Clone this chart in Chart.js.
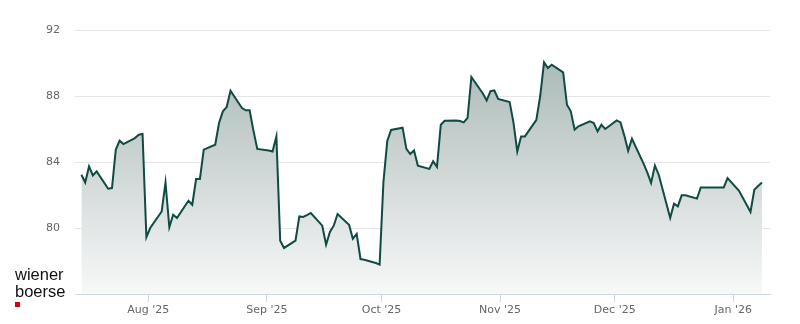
<!DOCTYPE html>
<html><head><meta charset="utf-8">
<script src="https://cdn.jsdelivr.net/npm/chart.js@4.4.1/dist/chart.umd.min.js"></script>
<style>
html,body{margin:0;padding:0;background:#fff;}
#wrap{position:relative;width:800px;height:324px;overflow:hidden;}
canvas{display:block;}
#logo{position:absolute;left:15px;top:266px;font-family:"Liberation Sans",Arial,sans-serif;font-size:16.5px;line-height:17px;color:#111;}
#logo .sq{width:5px;height:5px;background:#d0021b;margin-top:2px;}
</style></head><body>
<div id="wrap"><canvas id="c" width="800" height="324"></canvas>
<div id="logo"><div>wiener</div><div>boerse</div><div class="sq"></div></div></div>
<script>
const dates = [
'2025-07-14','2025-07-15','2025-07-16','2025-07-17','2025-07-18',
'2025-07-21','2025-07-22','2025-07-23','2025-07-24','2025-07-25',
'2025-07-28','2025-07-29','2025-07-30','2025-07-31','2025-08-01',
'2025-08-04','2025-08-05','2025-08-06','2025-08-07','2025-08-08',
'2025-08-11','2025-08-12','2025-08-13','2025-08-14','2025-08-15',
'2025-08-18','2025-08-19','2025-08-20','2025-08-21','2025-08-22',
'2025-08-25','2025-08-26','2025-08-27','2025-08-28','2025-08-29',
'2025-09-01','2025-09-02','2025-09-03','2025-09-04','2025-09-05',
'2025-09-08','2025-09-09','2025-09-10','2025-09-11','2025-09-12',
'2025-09-15','2025-09-16','2025-09-17','2025-09-18','2025-09-19',
'2025-09-22','2025-09-23','2025-09-24','2025-09-25','2025-09-26',
'2025-09-29','2025-09-30','2025-10-01','2025-10-02','2025-10-03',
'2025-10-06','2025-10-07','2025-10-08','2025-10-09','2025-10-10',
'2025-10-13','2025-10-14','2025-10-15','2025-10-16','2025-10-17',
'2025-10-20','2025-10-21','2025-10-22','2025-10-23','2025-10-24',
'2025-10-27','2025-10-28','2025-10-29','2025-10-30','2025-10-31',
'2025-11-03','2025-11-04','2025-11-05','2025-11-06','2025-11-07',
'2025-11-10','2025-11-11','2025-11-12','2025-11-13','2025-11-14',
'2025-11-17','2025-11-18','2025-11-19','2025-11-20','2025-11-21',
'2025-11-24','2025-11-25','2025-11-26','2025-11-27','2025-11-28',
'2025-12-01','2025-12-02','2025-12-03','2025-12-04','2025-12-05',
'2025-12-08','2025-12-09','2025-12-10','2025-12-11','2025-12-12',
'2025-12-15','2025-12-16','2025-12-17','2025-12-18','2025-12-19',
'2025-12-22','2025-12-23','2025-12-29','2025-12-30',
'2026-01-02','2026-01-05','2026-01-06','2026-01-07','2026-01-08'
];
const prices = [
83.23,82.76,83.73,83.19,83.43,
82.38,82.42,84.75,85.29,85.09,
85.45,85.65,85.70,79.45,80.00,
81.00,82.76,80.04,80.80,80.60,
81.65,81.41,82.97,82.97,84.75,
85.05,86.36,87.07,87.33,88.32,
87.27,87.13,87.13,85.90,84.79,
84.70,84.64,85.55,79.23,78.79,
79.23,80.70,80.67,80.78,80.91,
80.14,78.99,79.76,80.14,80.85,
80.20,79.35,79.64,78.12,78.08,
77.88,77.78,82.80,85.27,85.94,
86.08,84.79,84.48,84.70,83.78,
83.58,84.04,83.70,86.26,86.50,
86.52,86.48,86.40,86.67,89.15,
88.15,87.73,88.30,88.34,87.82,
87.64,86.40,84.64,85.55,85.55,
86.56,88.00,90.04,89.70,89.90,
89.43,87.47,87.07,85.96,86.16,
86.46,86.36,85.86,86.26,86.00,
86.52,86.40,85.60,84.68,85.41,
83.92,83.37,82.73,83.78,83.23,
80.61,81.47,81.31,81.98,81.98,
81.78,82.46,82.46,83.03,
82.26,80.97,82.32,82.55,82.76
];
const monthTicks = ['2025-08-01','2025-09-01','2025-10-01','2025-11-01','2025-12-01','2026-01-01'];
const monthLabels = ["Aug '25","Sep '25","Oct '25","Nov '25","Dec '25","Jan '26"];
const yTicks = [80, 84, 88, 92];

function dayNum(s){ const p = s.split('-').map(Number); return Date.UTC(p[0], p[1]-1, p[2]) / 86400000; }

const points = dates.map((d, i) => ({ x: dayNum(d) + 0.5, y: prices[i] }));
const tickDays = monthTicks.map(dayNum);

Chart.defaults.font.family = "'DejaVu Sans', sans-serif";
Chart.defaults.font.size = 11;
Chart.defaults.color = '#666666';

new Chart(document.getElementById('c'), {
  type: 'line',
  data: { datasets: [{
    data: points,
    borderColor: '#0f4a43',
    borderWidth: 2,
    pointRadius: 0,
    tension: 0,
    fill: 'start',
    backgroundColor: (ctx) => {
      const ch = ctx.chart; const a = ch.chartArea;
      if (!a) return 'rgba(0,0,0,0)';
      const g = ch.ctx.createLinearGradient(0, a.top, 0, a.bottom);
      g.addColorStop(0, 'rgb(162,178,176)');
      g.addColorStop(1, 'rgb(247,248,248)');
      return g;
    }
  }]},
  options: {
    responsive: false, animation: false, devicePixelRatio: 1,
    layout: { padding: { left: 0, right: 30, top: 30, bottom: 0 } },
    plugins: { legend: { display: false }, tooltip: { enabled: false } },
    scales: {
      x: {
        type: 'linear',
        min: dayNum('2025-08-01') - 19.17,
        max: dayNum('2026-01-01') + 9.6,
        afterBuildTicks: (s) => { s.ticks = tickDays.map(v => ({ value: v })); },
        afterFit: (s) => { s.height = 30; },
        grid: { drawOnChartArea: false, drawTicks: true, tickLength: 8, color: '#ccd6eb' },
        border: { display: true, color: '#ccd6eb', width: 1 },
        ticks: { autoSkip: false, maxRotation: 0, padding: 2, color: '#666666',
          callback: (v, i) => monthLabels[i] }
      },
      y: {
        min: 76, max: 92,
        afterBuildTicks: (s) => { s.ticks = yTicks.map(v => ({ value: v })); },
        afterFit: (s) => { s.width = 75; },
        grid: { color: '#e6e6e6', drawTicks: false },
        border: { display: false },
        ticks: { padding: 15, color: '#666666', callback: (v) => String(v) }
      }
    }
  }
});
</script>
</body></html>
